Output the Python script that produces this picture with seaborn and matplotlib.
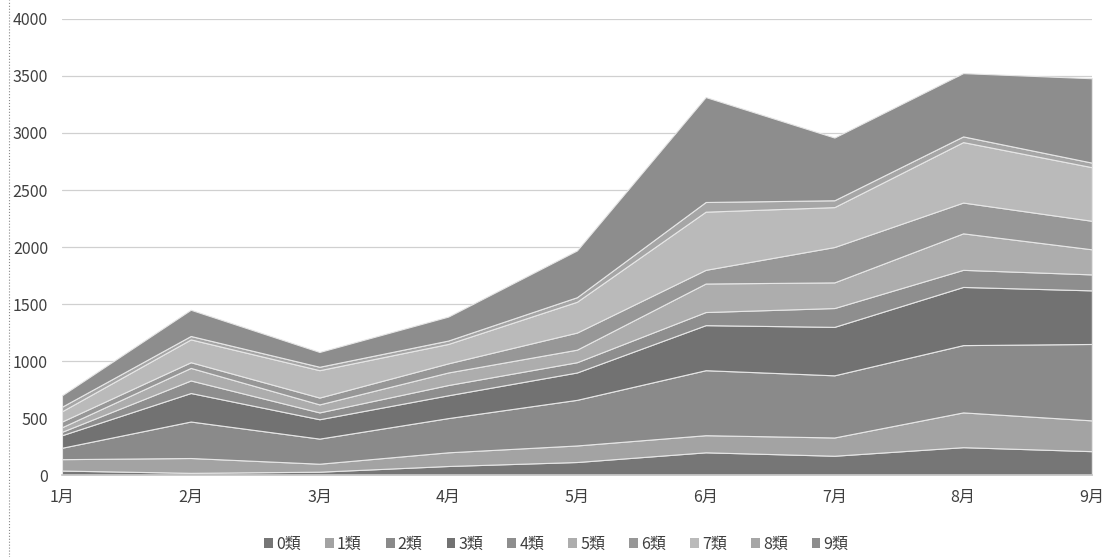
import numpy as np
import matplotlib
matplotlib.use("Agg")
import matplotlib.pyplot as plt
from matplotlib.patches import Patch
from matplotlib.lines import Line2D
import seaborn as sns

# 月別・類別の件数
months = ["1月", "2月", "3月", "4月", "5月", "6月", "7月", "8月", "9月"]
labels = ["0類", "1類", "2類", "3類", "4類", "5類", "6類", "7類", "8類", "9類"]

cat0 = [40, 20, 30, 80, 115, 200, 170, 245, 210]
cat1 = [100, 130, 70, 120, 145, 150, 160, 305, 270]
cat2 = [100, 320, 220, 300, 400, 570, 545, 590, 670]
cat3 = [110, 250, 170, 200, 240, 395, 425, 510, 470]
cat4 = [30, 110, 60, 90, 90, 115, 165, 150, 140]
cat5 = [40, 110, 70, 110, 110, 250, 225, 320, 220]
cat6 = [50, 50, 60, 80, 150, 120, 310, 270, 250]
cat7 = [90, 200, 240, 170, 270, 510, 350, 530, 470]
cat8 = [40, 30, 30, 30, 40, 85, 60, 50, 40]
cat9 = [100, 230, 130, 210, 410, 920, 550, 555, 740]

series = [cat0, cat1, cat2, cat3, cat4, cat5, cat6, cat7, cat8, cat9]
colors = ["#767676", "#a3a3a3", "#8a8a8a", "#727272", "#8e8e8e",
          "#adadad", "#979797", "#bababa", "#a6a6a6", "#8d8d8d"]

sns.set_theme(style="white")
plt.rcParams['font.family'] = ['Noto Sans CJK JP', 'DejaVu Sans']

fig = plt.figure(figsize=(11.13, 5.57), dpi=100)
ax = fig.add_axes([0.0557, 0.147, 0.9253, 0.819])

x = np.arange(len(months))
ax.stackplot(x, *series, colors=colors, labels=labels,
             edgecolor="#e6e6e6", linewidth=0.8)

ax.set_xlim(0, len(months) - 1)
ax.set_ylim(0, 4000)
ax.set_yticks(np.arange(0, 4001, 500))
ax.set_xticks(x)
ax.set_xticklabels(months)
ax.yaxis.grid(True, color="#d0d0d0", linewidth=0.9)
ax.set_axisbelow(True)
ax.tick_params(axis="both", colors="#404040", labelsize=11.5, length=0)
ax.tick_params(axis="x", pad=10)
ax.tick_params(axis="y", pad=10)
sns.despine(ax=ax, left=True, top=True, right=True)
ax.spines["bottom"].set_color("#c8c8c8")

handles = [Patch(facecolor=c, edgecolor="none") for c in colors]
fig.legend(handles, labels, loc="lower center", bbox_to_anchor=(0.5, -0.018),
           ncol=10, frameon=False, fontsize=11.5, handlelength=0.55,
           handleheight=0.55, handletextpad=0.2, columnspacing=1.5,
           labelcolor="#404040")

# 左端の点線枠
fig.add_artist(Line2D([0.008, 0.008], [0, 1], transform=fig.transFigure,
                      color="#888888", linestyle=":", linewidth=0.8))

fig.savefig("out.png", dpi=100)
